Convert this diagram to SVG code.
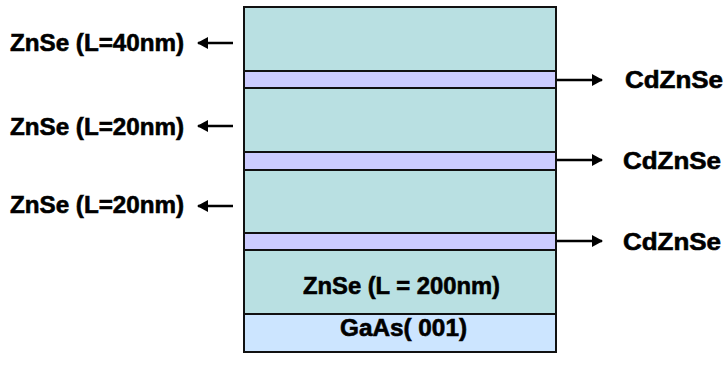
<svg xmlns="http://www.w3.org/2000/svg" width="726" height="379" viewBox="0 0 726 379">
<style>
.t{font-family:"Liberation Sans",Arial,sans-serif;font-weight:bold;font-size:24px;fill:#000;stroke:#000;stroke-width:0.6}
.zn{fill:#B9E0E2;stroke:#111;stroke-width:2}
.cd{fill:#CCCCFF;stroke:#111;stroke-width:2}
.ga{fill:#CCE5FF;stroke:#111;stroke-width:2}
.ln{stroke:#000;stroke-width:2.5;fill:none}
</style>
<defs>
<marker id="ah" markerWidth="11" markerHeight="12" refX="10" refY="6" orient="auto" markerUnits="userSpaceOnUse">
<path d="M0,0 L11,6 L0,12 Z" fill="#000"/>
</marker>
</defs>
<rect x="0" y="0" width="726" height="379" fill="#fff"/>
<g id="stack">
<g id="zn1"><rect class="zn" x="244" y="7" width="312" height="64"/></g>
<g id="cd1"><rect class="cd" x="244" y="71" width="312" height="17"/></g>
<g id="zn2"><rect class="zn" x="244" y="88" width="312" height="64"/></g>
<g id="cd2"><rect class="cd" x="244" y="152" width="312" height="18"/></g>
<g id="zn3"><rect class="zn" x="244" y="170" width="312" height="63"/></g>
<g id="cd3"><rect class="cd" x="244" y="233" width="312" height="17"/></g>
<g id="zn4"><rect class="zn" x="244" y="250" width="312" height="64"/>
<text class="t" x="303" y="294" textLength="197" lengthAdjust="spacingAndGlyphs">ZnSe (L = 200nm)</text></g>
<g id="gaas"><rect class="ga" x="244" y="314" width="312" height="38"/>
<text class="t" x="340" y="336" textLength="127" lengthAdjust="spacingAndGlyphs">GaAs( 001)</text></g>
</g>
<g id="labels">
<g id="l1"><text class="t" x="10" y="51" textLength="174" lengthAdjust="spacingAndGlyphs">ZnSe (L=40nm)</text></g>
<g id="l2"><text class="t" x="10" y="135" textLength="174" lengthAdjust="spacingAndGlyphs">ZnSe (L=20nm)</text></g>
<g id="l3"><text class="t" x="10" y="213" textLength="174" lengthAdjust="spacingAndGlyphs">ZnSe (L=20nm)</text></g>
<g id="r1"><text class="t" x="625" y="88" textLength="98" lengthAdjust="spacingAndGlyphs">CdZnSe</text></g>
<g id="r2"><text class="t" x="623" y="169" textLength="98" lengthAdjust="spacingAndGlyphs">CdZnSe</text></g>
<g id="r3"><text class="t" x="623" y="250" textLength="98" lengthAdjust="spacingAndGlyphs">CdZnSe</text></g>
</g>
<g id="connectors">
<line class="ln" x1="233" y1="43" x2="198" y2="43" marker-end="url(#ah)"/>
<line class="ln" x1="233" y1="126" x2="198" y2="126" marker-end="url(#ah)"/>
<line class="ln" x1="233" y1="206" x2="198" y2="206" marker-end="url(#ah)"/>
<line class="ln" x1="557" y1="80" x2="602" y2="80" marker-end="url(#ah)"/>
<line class="ln" x1="557" y1="160" x2="602" y2="160" marker-end="url(#ah)"/>
<line class="ln" x1="557" y1="241" x2="602" y2="241" marker-end="url(#ah)"/>
</g>
</svg>
